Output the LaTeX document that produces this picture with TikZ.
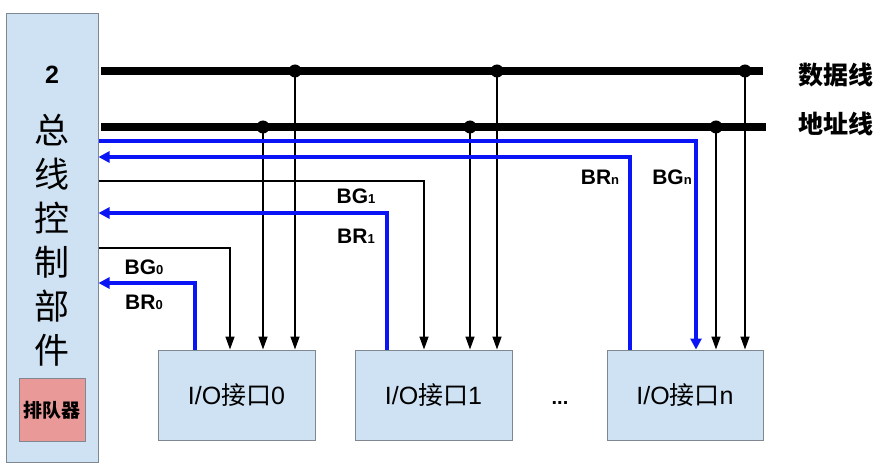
\documentclass[tikz,border=0pt]{standalone}
\usepackage{fontspec}
\setmainfont{Liberation Sans}
\newfontfamily\cjk{Noto Sans CJK SC}
\usetikzlibrary{arrows.meta}
\definecolor{boxblue}{HTML}{CFE2F3}
\definecolor{boxline}{HTML}{7F8790}
\definecolor{qpink}{HTML}{EA9999}
\definecolor{sigblue}{HTML}{0A14F5}
\tikzset{
  panel/.style={draw=boxline, fill=boxblue, line width=1pt, inner sep=0pt},
  qbox/.style={draw=boxline, fill=qpink, line width=1pt, inner sep=0pt, minimum width=66pt, minimum height=63pt},
  iobox/.style={panel, minimum width=157pt, minimum height=90pt, font=\fontsize{25}{27}\selectfont},
  bus/.style={line width=8pt},
  tap/.style={circle, fill=black, inner sep=0pt, minimum size=13pt},
  feed/.style={line width=1.5pt, -{Triangle[length=13pt,width=9pt]}},
  req/.style={draw=sigblue, line width=3.5pt, -{Triangle[length=11pt,width=11pt]}},
  lbl/.style={font=\fontsize{21}{23}\selectfont\bfseries},
  vch/.style={font=\fontsize{35}{37}\selectfont\cjk},
  side/.style={font=\fontsize{25}{27}\selectfont\cjk\bfseries, anchor=west}
}
\newcommand{\sig}[2]{#1{\fontsize{13}{14}\selectfont #2}}
\begin{document}
\begin{tikzpicture}[x=1pt,y=-1pt]
\useasboundingbox (0,0) rectangle (892,473);
% control panel
\node[panel, minimum width=92pt, minimum height=448pt] (ctrl) at (52,238) {};
\node[font=\fontsize{25}{27}\selectfont\bfseries] (two) at (52,75) {2};
\node[vch] (c1) at (52,130) {总};
\node[vch] (c2) at (52,174) {线};
\node[vch] (c3) at (52,218) {控};
\node[vch] (c4) at (52,262) {制};
\node[vch] (c5) at (52,306) {部};
\node[vch] (c6) at (52,350) {件};
\node[qbox, font=\fontsize{19}{21}\selectfont\cjk\bfseries] (queue) at (52,410) {排队器};
% IO boxes
\node[iobox] (io0) at (236.5,395) {I/O{\cjk 接口}0};
\node[iobox] (io1) at (433.5,395) {I/O{\cjk 接口}1};
\node[iobox, minimum width=156pt] (ion) at (685,395) {I/O{\cjk 接口}n};
\node[font=\fontsize{20}{22}\selectfont\bfseries] (dots) at (560,403) {...};
% buses
\coordinate (dS) at (101,71);
\coordinate (dE) at (763,71);
\coordinate (aS) at (101,127);
\coordinate (aE) at (766,127);
\draw[bus] (dS) -- (dE);
\draw[bus] (aS) -- (aE);
\node[tap] (d0) at (295,71) {};
\node[tap] (d1) at (497,71) {};
\node[tap] (dn) at (745,71) {};
\node[tap] (a0) at (263,127) {};
\node[tap] (a1) at (470,127) {};
\node[tap] (an) at (716,127) {};
\node[side] (dlab) at (795,75) {数据线};
\node[side] (alab) at (795,124) {地址线};
% taps down to interfaces
\draw[feed] (d0.center) -- (io0.north -| d0);
\draw[feed] (a0.center) -- (io0.north -| a0);
\draw[feed] (d1.center) -- (io1.north -| d1);
\draw[feed] (a1.center) -- (io1.north -| a1);
\draw[feed] (dn.center) -- (ion.north -| dn);
\draw[feed] (an.center) -- (ion.north -| an);
% grant lines
\draw[feed] (ctrl.east |- 0,248) -| (io0.north -| 230,0);
\draw[feed] (ctrl.east |- 0,181) -| (io1.north -| 424,0);
\draw[req] (ctrl.east |- 0,141) -| (ion.north -| 696,0);
% request lines
\draw[req] (io0.north -| 195,0) |- (ctrl.east |- 0,283);
\draw[req] (io1.north -| 387,0) |- (ctrl.east |- 0,213);
\draw[req] (ion.north -| 630,0) |- (ctrl.east |- 0,157);
% labels
\node[lbl] (bg0) at (144,267) {\sig{BG}{0}};
\node[lbl] (br0) at (144,302) {\sig{BR}{0}};
\node[lbl] (bg1) at (356,196) {\sig{BG}{1}};
\node[lbl] (br1) at (356,236) {\sig{BR}{1}};
\node[lbl] (brn) at (600,177) {\sig{BR}{n}};
\node[lbl] (bgn) at (672,177) {\sig{BG}{n}};
\end{tikzpicture}
\end{document}
